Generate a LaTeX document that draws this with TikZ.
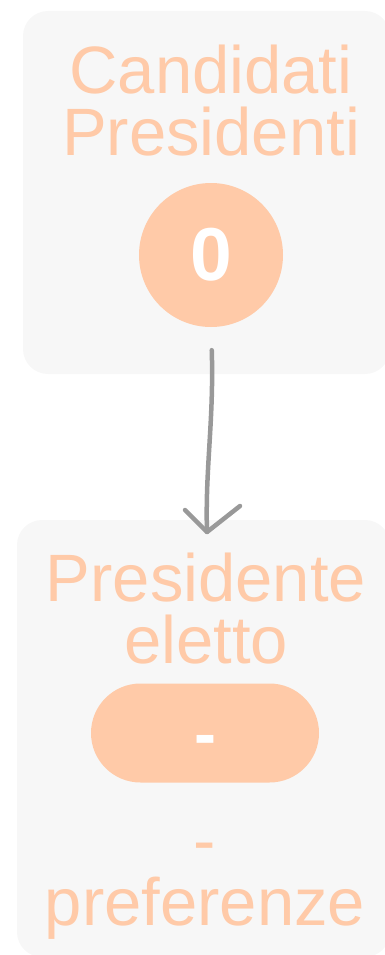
\documentclass[tikz,border=0pt]{standalone}
\usepackage{fontspec}
\setmainfont{Liberation Sans}
\definecolor{peach}{HTML}{FFCAA8}
\definecolor{panelgray}{HTML}{F7F7F7}
\definecolor{arrowgray}{HTML}{999999}

\begin{document}
\begin{tikzpicture}
  [x=1pt, y=-1pt,
   panel/.style={rectangle, fill=panelgray, rounded corners=25pt, inner sep=0pt},
   title/.style={text=peach, align=center, anchor=base, inner sep=0pt,
     font=\fontsize{67}{62}\selectfont},
   badge/.style={fill=peach, text=white, inner sep=0pt,
     font=\bfseries\fontsize{75}{75}\selectfont},
   flow/.style={draw=arrowgray, line width=4.5pt, line cap=round, line join=round}]
  \useasboundingbox (0,0) rectangle (385,955);
  % the two panels
  \node[panel, minimum width=367pt, minimum height=363pt] (candbox) at (206.5,192.5) {};
  \node[panel, minimum width=373pt, minimum height=437pt] (elettobox) at (203.5,738.5) {};
  % candidates
  \node[title] (candtitle) at (211,155) {Candidati\\Presidenti};
  \node[badge, circle, minimum size=144pt] (count) at (211,255) {0};
  % elected president
  \node[title] (elettotitle) at (206,663) {Presidente\\eletto};
  \node[badge, rounded corners=49.5pt, minimum width=228pt, minimum height=99pt,
    text height=46pt, text depth=0pt, font=\bfseries\fontsize{66}{66}\selectfont]
    (eletto) at (205,733) {-};
  \node[title] (votes) at (205,925) {-\\preferenze};
  % connector
  \coordinate (tip) at (207,532);
  \draw[flow, shorten <=23pt] (count.south) .. controls (214,420) and (205,470) .. (tip);
  \draw[flow] ([xshift=-22pt,yshift=22pt]tip) -- (tip) -- ([xshift=33pt,yshift=26pt]tip);
\end{tikzpicture}
\end{document}
